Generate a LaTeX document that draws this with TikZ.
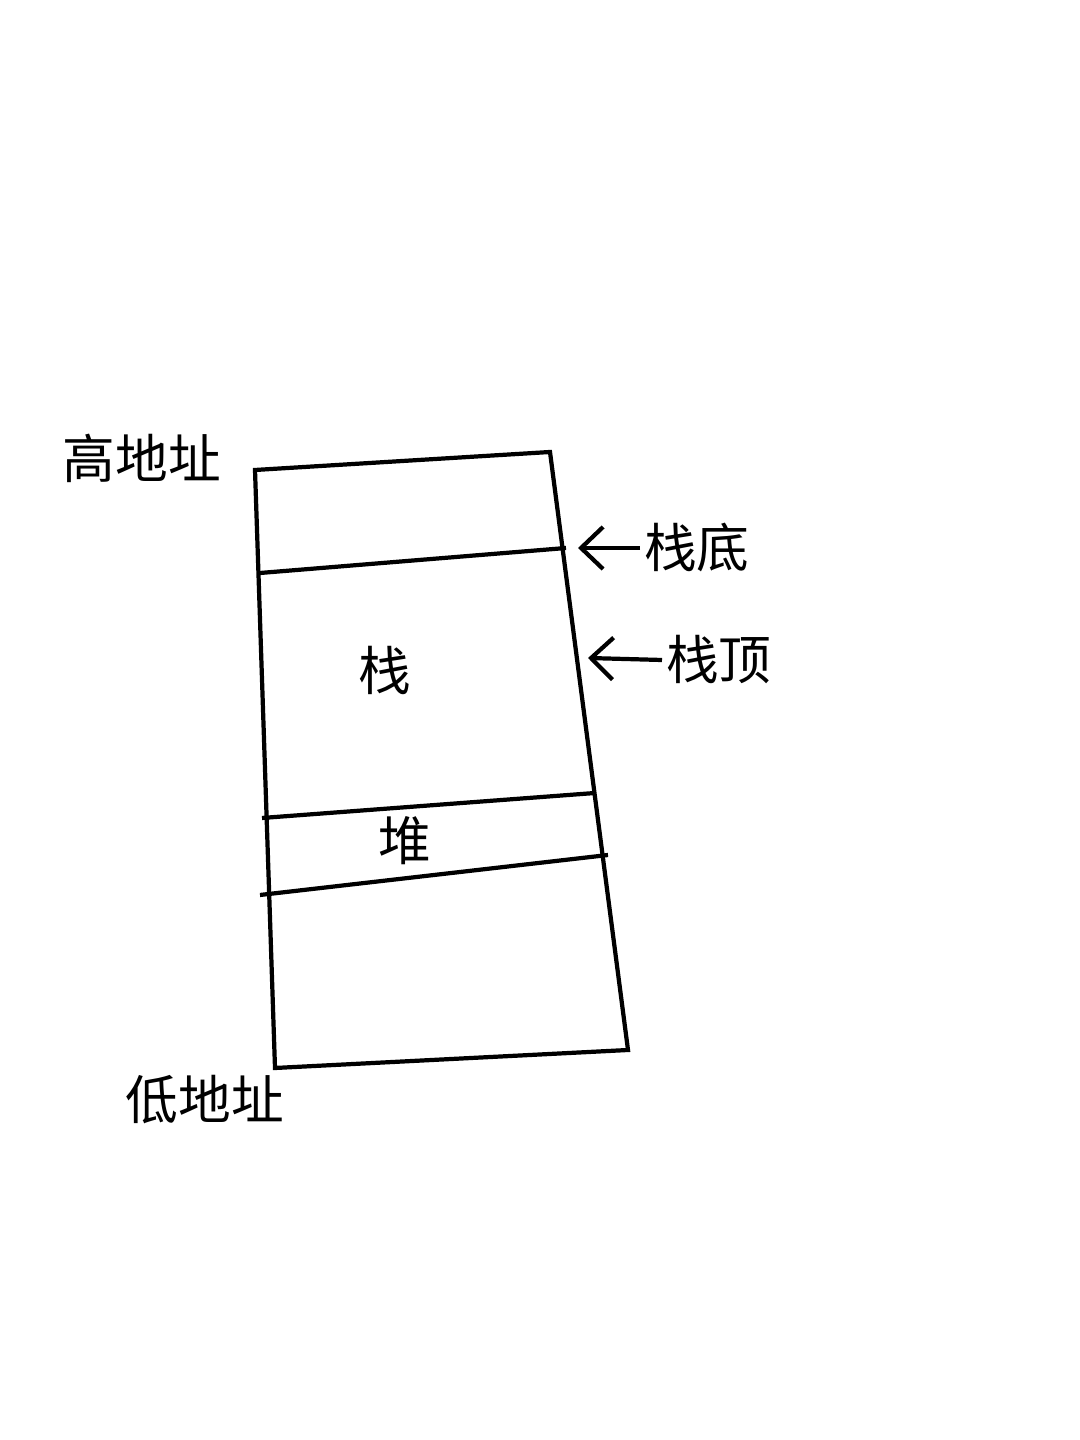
\documentclass[tikz,border=0pt]{standalone}
\usepackage{fontspec}
\newfontfamily\cjk{Noto Sans CJK SC}
\usetikzlibrary{arrows.meta}
\tikzset{
    memline/.style={line width=1.2pt, black},
    memlabel/.style={font=\cjk\fontsize{15}{18}\selectfont, inner sep=1pt},
    pointer/.style={line width=1.2pt, -{Straight Barb[length=2.2mm, width=4.2mm]}}}

\begin{document}
\begin{tikzpicture}
        \useasboundingbox (0,0) rectangle (10.8,14.4);

            \coordinate (TL) at (2.55,9.70);
            \coordinate (TR) at (5.50,9.88);
            \coordinate (BR) at (6.28,3.90);
            \coordinate (BL) at (2.75,3.72);

            \coordinate (S1) at (2.60,8.67);
            \coordinate (S2) at (5.66,8.92);
            \coordinate (H1) at (2.62,6.22);
            \coordinate (H2) at (5.95,6.47);
            \coordinate (H3) at (2.60,5.45);
            \coordinate (H4) at (6.08,5.85);

            \draw[memline] (TL) -- (TR) -- (BR) -- (BL) -- cycle;
            \draw[memline] (S1) -- (S2);
            \draw[memline] (H1) -- (H2);
            \draw[memline] (H3) -- (H4);

            \node[memlabel] (high) at (1.42,9.82) {高地址};
            \node[memlabel] (low) at (2.05,3.40) {低地址};
            \node[memlabel] (stack) at (3.85,7.70) {栈};
            \node[memlabel] (heap) at (4.05,5.99) {堆};
            \node[memlabel, anchor=west] (bottom) at (6.40,8.92) {栈底};
            \node[memlabel, anchor=west] (top) at (6.62,7.80) {栈顶};

            \coordinate (bottomtip) at (5.78,8.92);
            \coordinate (toptip) at (5.88,7.82);

            \draw[pointer] (bottom.west) -- (bottomtip);
            \draw[pointer] (top.west) -- (toptip);

        \end{tikzpicture}
\end{document}
